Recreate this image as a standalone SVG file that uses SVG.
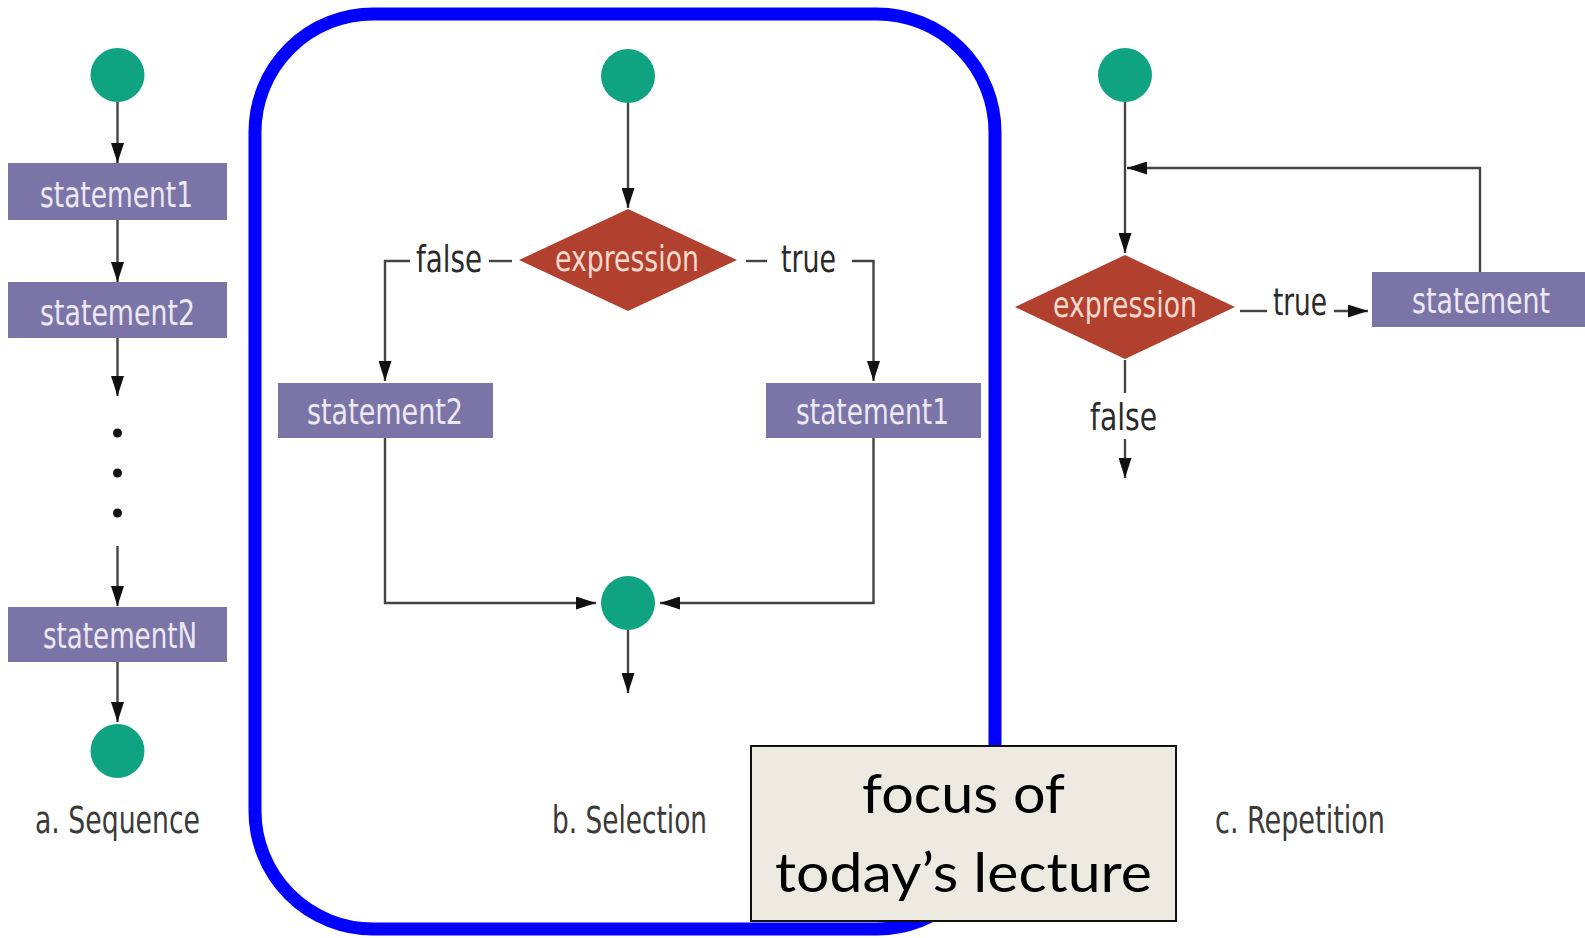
<svg xmlns="http://www.w3.org/2000/svg" width="1585" height="938" viewBox="0 0 1585 938">
<defs>
<style>
.bg{fill:#ffffff}
.dot{fill:#0fa382}
.box{fill:#7b74a7}
.dia{fill:#b2402f}
.bt{font-family:"Liberation Sans Narrow","DejaVu Sans Condensed","Roboto Condensed",sans-serif;font-size:36px;fill:#ece8f4;text-anchor:start}
.dt{font-family:"Liberation Sans Narrow","DejaVu Sans Condensed","Roboto Condensed",sans-serif;font-size:36px;fill:#f6d9cc}
.lt{font-family:"Liberation Sans Narrow","DejaVu Sans Condensed","Roboto Condensed",sans-serif;font-size:38px;fill:#2a2a2a}
.cap{font-family:"Liberation Sans Narrow","DejaVu Sans Condensed","Roboto Condensed",sans-serif;font-size:37px;fill:#3a3a3a}
.ln{fill:none;stroke:#444;stroke-width:2.4}
.arr{marker-end:url(#ah)}
.ft{font-family:Lato,"Open Sans","Liberation Sans",sans-serif;font-size:54px;fill:#000}
</style>
<marker id="ah" markerUnits="userSpaceOnUse" markerWidth="20" markerHeight="13" refX="20" refY="6.5" orient="auto">
<path d="M0,0 L20,6.5 L0,13 z" fill="#111"/>
</marker>
</defs>
<rect class="bg" x="0" y="0" width="1585" height="938"/>

<g id="connectors">
<path class="ln arr" d="M117.5,102 V163"/>
<path class="ln arr" d="M117.5,220 V282"/>
<path class="ln arr" d="M117.5,338 V396"/>
<path class="ln arr" d="M117.5,546 V606"/>
<path class="ln arr" d="M117.5,662 V722"/>
<path class="ln arr" d="M628,103 V208"/>
<path class="ln" d="M489,261 H512"/>
<path class="ln arr" d="M410,261 H385 V381"/>
<path class="ln" d="M746,261 H767"/>
<path class="ln arr" d="M852,261 H873.5 V381"/>
<path class="ln arr" d="M385,438 V603 H596"/>
<path class="ln arr" d="M873.5,438 V603 H660"/>
<path class="ln arr" d="M628,630 V693"/>
<path class="ln arr" d="M1125,102 V253"/>
<path class="ln arr" d="M1480,272 V168 H1127"/>
<path class="ln" d="M1240,311 H1267"/>
<path class="ln arr" d="M1334,311 H1368"/>
<path class="ln" d="M1125,360 V393"/>
<path class="ln arr" d="M1125,439 V478"/>
</g>

<g id="seq-start"><circle class="dot" cx="117.5" cy="75" r="27"/></g>
<g id="seq-s1"><rect class="box" x="8" y="163" width="219" height="57"/><text class="bt" x="40" y="207" textLength="153" lengthAdjust="spacingAndGlyphs">statement1</text></g>
<g id="seq-s2"><rect class="box" x="8" y="282" width="219" height="56"/><text class="bt" x="40" y="325" textLength="155" lengthAdjust="spacingAndGlyphs">statement2</text></g>
<g id="seq-dots"><circle cx="117.5" cy="433" r="4.5" fill="#111"/><circle cx="117.5" cy="473" r="4.5" fill="#111"/><circle cx="117.5" cy="513" r="4.5" fill="#111"/></g>
<g id="seq-sN"><rect class="box" x="8" y="607" width="219" height="55"/><text class="bt" x="43" y="648" textLength="154" lengthAdjust="spacingAndGlyphs">statementN</text></g>
<g id="seq-end"><circle class="dot" cx="117.5" cy="751" r="27"/></g>
<g id="seq-label"><text class="cap" x="35" y="833" textLength="165" lengthAdjust="spacingAndGlyphs">a. Sequence</text></g>

<g id="focus-frame"><rect x="255" y="14" width="740" height="915" rx="118" ry="118" fill="none" stroke="#0000ff" stroke-width="13"/></g>

<g id="sel-start"><circle class="dot" cx="628" cy="76" r="27"/></g>
<g id="sel-expr"><polygon class="dia" points="519,260 628,209 737,260 628,311"/><text class="dt" x="555" y="271" textLength="144" lengthAdjust="spacingAndGlyphs">expression</text></g>
<g id="sel-false"><text class="lt" x="416" y="272" textLength="66" lengthAdjust="spacingAndGlyphs">false</text></g>
<g id="sel-true"><text class="lt" x="781" y="272" textLength="55" lengthAdjust="spacingAndGlyphs">true</text></g>
<g id="sel-s2"><rect class="box" x="278" y="383" width="215" height="55"/><text class="bt" x="307" y="424" textLength="156" lengthAdjust="spacingAndGlyphs">statement2</text></g>
<g id="sel-s1"><rect class="box" x="766" y="383" width="215" height="55"/><text class="bt" x="796" y="424" textLength="153" lengthAdjust="spacingAndGlyphs">statement1</text></g>
<g id="sel-merge"><circle class="dot" cx="628" cy="603" r="27"/></g>
<g id="sel-label"><text class="cap" x="552" y="833" textLength="155" lengthAdjust="spacingAndGlyphs">b. Selection</text></g>

<g id="rep-start"><circle class="dot" cx="1125" cy="75" r="27"/></g>
<g id="rep-expr"><polygon class="dia" points="1015,307 1125,255 1235,307 1125,359"/><text class="dt" x="1053" y="317" textLength="144" lengthAdjust="spacingAndGlyphs">expression</text></g>
<g id="rep-true"><text class="lt" x="1273" y="315" textLength="54" lengthAdjust="spacingAndGlyphs">true</text></g>
<g id="rep-stmt"><rect class="box" x="1372" y="272" width="213" height="55"/><text class="bt" x="1412" y="313" textLength="138" lengthAdjust="spacingAndGlyphs">statement</text></g>
<g id="rep-false"><text class="lt" x="1090" y="430" textLength="67" lengthAdjust="spacingAndGlyphs">false</text></g>
<g id="rep-label"><text class="cap" x="1215" y="833" textLength="170" lengthAdjust="spacingAndGlyphs">c. Repetition</text></g>

<g id="focus-note">
<rect x="751" y="746" width="425" height="175" fill="#edebe1" stroke="#111" stroke-width="2"/>
<text class="ft" x="862" y="813" textLength="203" lengthAdjust="spacingAndGlyphs">focus of</text>
<text class="ft" x="775" y="892" textLength="377" lengthAdjust="spacingAndGlyphs">today’s lecture</text>
</g>
</svg>
